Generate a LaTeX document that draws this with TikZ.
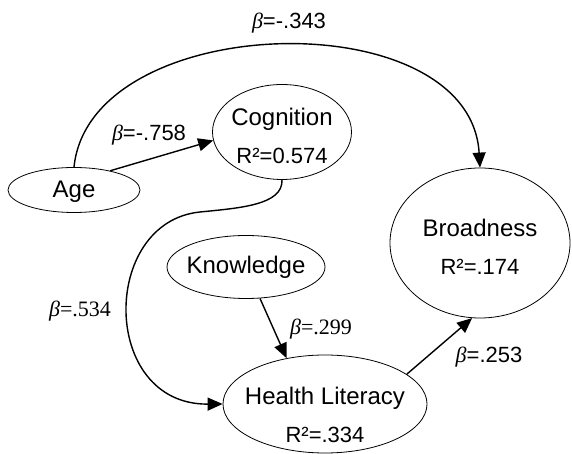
\documentclass[tikz,border=0pt]{standalone}
\usepackage{fontspec}
\setmainfont{Liberation Sans}
\newfontfamily\timesfont{Liberation Serif}
\usetikzlibrary{arrows.meta,shapes.geometric}

\newcommand{\betasym}{{\timesfont\itshape β}}
\newcommand{\rsqline}[1]{{\fontsize{22}{38}\selectfont #1}}

\begin{document}
\begin{tikzpicture}[x=1pt,y=1pt,
    var/.style={draw, ellipse, inner sep=0pt, line width=0.8pt},
    vartext/.style={font=\fontsize{24}{38}\selectfont, align=center, inner sep=0pt},
    coef/.style={font=\fontsize{22}{26}\selectfont, inner sep=0pt},
    link/.style={line width=1.4pt, -{Triangle[length=15pt,width=13pt]}}]
    \useasboundingbox (0,0) rectangle (572,454);

    % latent variables
    \node[var, minimum width=132pt, minimum height=45pt] (age) at (74,264) {};
    \node[vartext] (age-t) at (74,262) {Age};
    \node[var, minimum width=139pt, minimum height=95pt] (cog) at (282,322) {};
    \node[vartext] (cog-t) at (282,318.5) {Cognition\\\rsqline{R²=0.574}};
    \node[var, minimum width=180pt, minimum height=150pt] (brd) at (480,211) {};
    \node[vartext] (brd-t) at (480,207.5) {Broadness\\\rsqline{R²=.174}};
    \node[var, minimum width=158pt, minimum height=63pt] (kno) at (246,187) {};
    \node[vartext] (kno-t) at (246,186.5) {Knowledge};
    \node[var, minimum width=204pt, minimum height=98pt] (hl) at (325,50) {};
    \node[vartext] (hl-t) at (325,39) {Health Literacy\\\rsqline{R²=.334}};

    % path coefficients
    \node[coef] (b-ab) at (289,431) {\betasym=-.343};
    \node[coef] (b-ac) at (149,319) {\betasym=-.758};
    \node[coef, font=\fontsize{22}{26}\timesfont] (b-ch) at (80,143) {\betasym=.534};
    \node[coef, font=\fontsize{22}{26}\timesfont] (b-kh) at (321,125) {\betasym=.299};
    \node[coef] (b-hb) at (489,97) {\betasym=.253};

    \draw[link] (age.north) .. controls (90,444) and (470,454) .. (brd.north); % age-broadness
    \draw[link] (age.28) -- (cog.187); % age-cognition
    \draw[link] (cog.south) .. controls (283,249) and (240,246) .. (200,242)
        .. controls (100,232) and (100,49) .. (hl.west); % cognition-literacy
    \draw[link] (kno.-66) -- (hl.130); % knowledge-literacy
    \draw[link] (hl.20) -- (brd.-96); % literacy-broadness
\end{tikzpicture}
\end{document}
